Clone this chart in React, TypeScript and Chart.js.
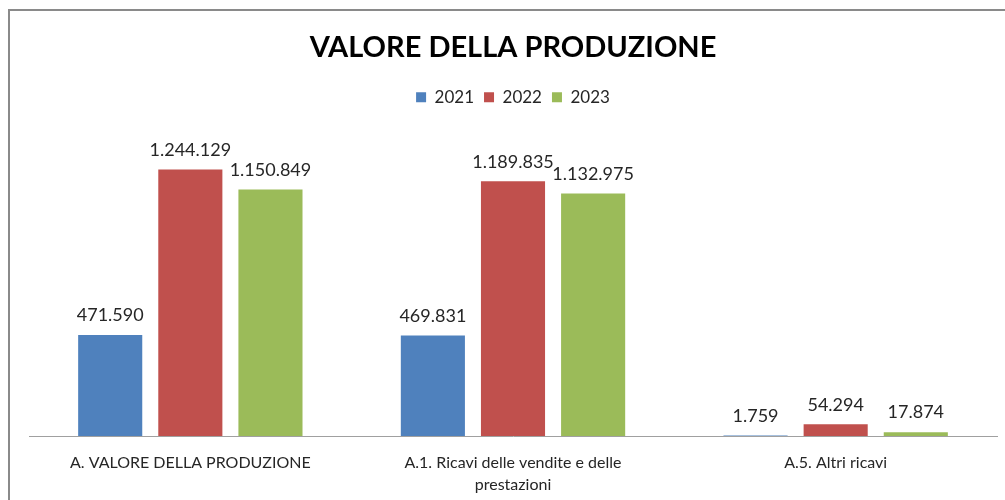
import React, { useEffect, useRef } from "react";
import { Chart, registerables } from "chart.js";

Chart.register(...registerables);

const categories: (string | string[])[] = [
  "A. VALORE DELLA PRODUZIONE",
  ["A.1. Ricavi delle vendite e delle", "prestazioni"],
  "A.5. Altri ricavi",
];
const seriesNames = ["2021", "2022", "2023"];
const values2021 = [471590, 469831, 1759];
const values2022 = [1244129, 1189835, 54294];
const values2023 = [1150849, 1132975, 17874];
const colors = ["#4F81BD", "#C0504D", "#9BBB59"];
const titleText = "VALORE DELLA PRODUZIONE";
const yMax = 1400000;

const FONT = "Lato, 'Noto Sans', sans-serif";

function fmt(v: number): string {
  return String(v).replace(/\B(?=(\d{3})+(?!\d))/g, ".");
}

const framePlugin = {
  id: "frame",
  beforeDraw(chart: any) {
    const ctx = chart.ctx;
    ctx.save();
    ctx.fillStyle = "#ffffff";
    ctx.fillRect(0, 0, chart.width, chart.height);
    ctx.strokeStyle = "#8a8a8a";
    ctx.lineWidth = 2;
    ctx.beginPath();
    ctx.moveTo(9, chart.height);
    ctx.lineTo(9, 10);
    ctx.lineTo(chart.width, 10);
    ctx.stroke();
    ctx.restore();
  },
};

const labelPlugin = {
  id: "barLabels",
  afterDatasetsDraw(chart: any) {
    const ctx = chart.ctx;
    ctx.save();
    ctx.font = `18px ${FONT}`;
    ctx.fillStyle = "#262626";
    ctx.textAlign = "center";
    ctx.textBaseline = "middle";
    chart.data.datasets.forEach((ds: any, i: number) => {
      const meta = chart.getDatasetMeta(i);
      meta.data.forEach((bar: any, j: number) => {
        ctx.fillText(fmt(ds.data[j]), bar.x, bar.y - 19.5);
      });
    });
    ctx.restore();
  },
};

export default function App() {
  const ref = useRef<HTMLCanvasElement | null>(null);
  useEffect(() => {
    if (!ref.current) return;
    const series = [values2021, values2022, values2023];
    const chart = new Chart(ref.current, {
      type: "bar",
      data: {
        labels: categories,
        datasets: series.map((data, i) => ({
          label: seriesNames[i],
          data,
          backgroundColor: colors[i],
          borderWidth: 0,
          categoryPercentage: 0.745,
          barPercentage: 0.8,
        })),
      },
      options: {
        animation: false,
        responsive: false,
        maintainAspectRatio: false,
        layout: { padding: { left: 29, right: 8, top: 0, bottom: 4 } },
        plugins: {
          title: {
            display: true,
            text: titleText,
            color: "#000000",
            font: { family: FONT, size: 29, weight: "bold", lineHeight: 1.2 },
            padding: { top: 30, bottom: 14 },
          },
          legend: {
            display: true,
            position: "top",
            labels: {
              boxWidth: 10,
              boxHeight: 10,
              padding: 10,
              color: "#262626",
              font: { family: FONT, size: 17 },
            },
          },
          subtitle: {
            display: true,
            text: " ",
            position: "top",
            weight: 500,
            font: { family: FONT, size: 17, lineHeight: 1.2 },
            padding: 0,
          },
          tooltip: { enabled: false },
        },
        scales: {
          x: {
            grid: { display: false, drawTicks: false },
            border: { display: true, color: "#a0a0a0", width: 1 },
            ticks: {
              color: "#262626",
              padding: 16,
              maxRotation: 0,
              autoSkip: false,
              font: { family: FONT, size: 16, lineHeight: 1.375 },
            },
            afterFit(scale: any) {
              scale.height = 60;
            },
          },
          y: {
            display: false,
            min: 0,
            max: yMax,
          },
        },
      },
      plugins: [framePlugin, labelPlugin],
    } as any);
    return () => chart.destroy();
  }, []);
  return (
    <div style={{ position: "absolute", left: 0, top: 0, width: 1005, height: 500 }}>
      <canvas ref={ref} width={1005} height={500} style={{ width: 1005, height: 500, display: "block" }} />
    </div>
  );
}
